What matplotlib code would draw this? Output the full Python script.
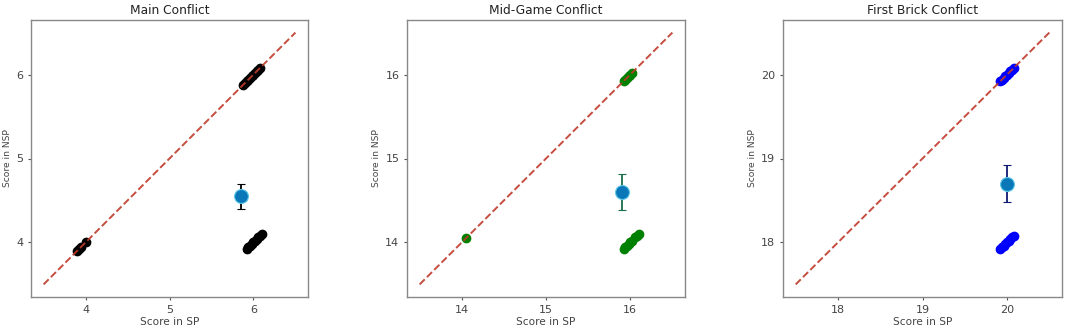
import matplotlib
matplotlib.use("Agg")
import matplotlib.pyplot as plt

titles = ["Main Conflict", "Mid-Game Conflict", "First Brick Conflict"]
line_ranges = [(3.5, 6.5), (13.5, 16.5), (17.5, 20.5)]
ticks = [[4, 5, 6], [14, 15, 16], [18, 19, 20]]

# points lying on the diagonal (SP == NSP)
diag_x = [
    [3.90, 3.92, 3.94, 4.01, 5.88, 5.90, 5.92, 5.94, 5.96, 5.98, 6.00, 6.02, 6.04, 6.06, 6.08],
    [14.05, 15.92, 15.94, 15.96, 15.98, 16.00, 16.02],
    [19.92, 19.94, 19.96, 19.98, 20.00, 20.02, 20.04, 20.06, 20.08],
]
# points below the diagonal
below_x = [
    [5.92, 5.94, 5.96, 5.98, 6.00, 6.02, 6.04, 6.06, 6.08, 6.10],
    [15.92, 15.94, 15.96, 15.98, 16.00, 16.02, 16.06, 16.08, 16.10],
    [19.92, 19.94, 19.96, 19.98, 20.00, 20.02, 20.04, 20.06, 20.08],
]
below_y = [
    [3.92, 3.94, 3.96, 3.98, 4.00, 4.02, 4.04, 4.06, 4.08, 4.10],
    [13.92, 13.94, 13.96, 13.98, 14.00, 14.02, 14.06, 14.08, 14.10],
    [17.92, 17.94, 17.96, 17.98, 18.00, 18.02, 18.04, 18.06, 18.08],
]
mean_x = [5.85, 15.90, 20.00]
mean_y = [4.55, 14.60, 18.70]
err_x = [0.05, 0.05, 0.0]
err_y = [0.15, 0.21, 0.22]

point_colors = ["black", "green", "blue"]
err_colors = ["black", "#1b6e4a", "#0d1a6e"]

fig = plt.figure(figsize=(10.65, 3.3), dpi=100)
lefts = [31 / 1065, 407 / 1065, 783 / 1065]
widths = [277 / 1065, 278 / 1065, 279 / 1065]
for i in range(3):
    ax = fig.add_axes([lefts[i], 33 / 330, widths[i], 277 / 330])
    ax.scatter(diag_x[i], diag_x[i], s=36, color=point_colors[i], zorder=2)
    ax.scatter(below_x[i], below_y[i], s=36, color=point_colors[i], zorder=2)
    lo, hi = line_ranges[i]
    ax.plot([lo, hi], [lo, hi], linestyle="--", color="#c0392b", lw=1.4, alpha=0.9, zorder=3)
    ax.errorbar([mean_x[i]], [mean_y[i]], xerr=[err_x[i]] if err_x[i] else None,
                yerr=[err_y[i]], fmt="o", color="#0a78b8", ms=10, mec="#5ec8e8", mew=0.8,
                ecolor=err_colors[i], elinewidth=1.3, capsize=3, zorder=4)
    ax.set_xticks(ticks[i])
    ax.set_yticks(ticks[i])
    ax.tick_params(labelsize=8, colors="#444444", length=2.5, pad=3, color="#555555")
    ax.set_xlabel("Score in SP", fontsize=7.6, color="#444444", labelpad=2)
    ax.set_ylabel("Score in NSP", fontsize=6.6, color="#444444", labelpad=3)
    ax.set_title(titles[i], fontsize=8.8, color="#222222", pad=4)
    for sp in ax.spines.values():
        sp.set_color("#888888")
        sp.set_linewidth(1.0)

fig.savefig("out.png", dpi=100)
